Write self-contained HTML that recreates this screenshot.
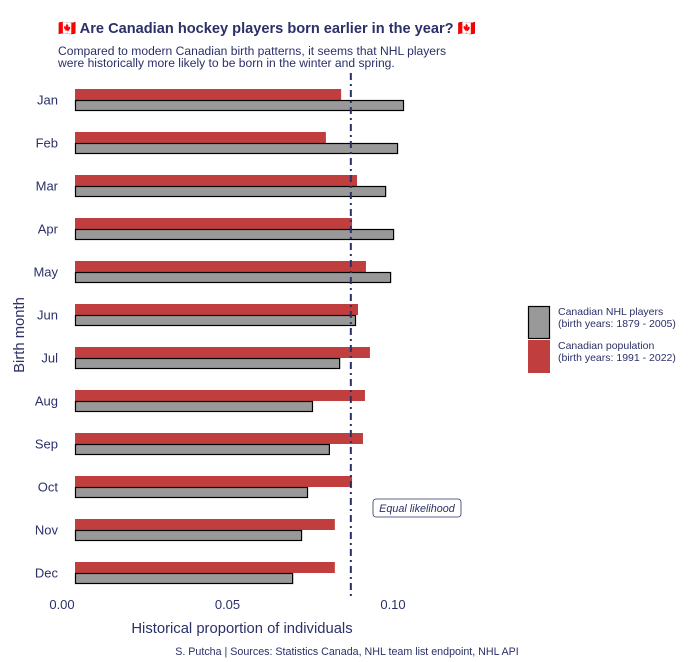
<!DOCTYPE html>
<html><head><meta charset="utf-8"><style>
html,body{margin:0;padding:0;background:#fff;width:700px;height:662px;overflow:hidden}
svg text{font-family:"Liberation Sans",sans-serif;fill:#2b3068}
</style></head><body>
<svg id="chart" width="700" height="662" xmlns="http://www.w3.org/2000/svg">
<text x="58" y="33" font-size="14.6" font-weight="bold">🇨🇦 Are Canadian hockey players born earlier in the year? 🇨🇦</text>
<text x="58" y="55" font-size="12.1">Compared to modern Canadian birth patterns, it seems that NHL players</text>
<text x="58" y="67" font-size="12.1">were historically more likely to be born in the winter and spring.</text>
<g id="bars"></g>
<g id="yticks"></g>
<g id="xticks"></g>
<line id="eqline" y1="73" y2="598" stroke="#2b3068" stroke-width="2" stroke-dasharray="7,4,2,4"/>
<g>
<rect x="373" y="499" width="88" height="18" rx="3" fill="#fff" stroke="#2b3068" stroke-width="0.8"/>
<text x="417" y="512" font-size="10.8" font-style="italic" text-anchor="middle">Equal likelihood</text>
</g>
<text x="242" y="633" font-size="14.8" text-anchor="middle">Historical proportion of individuals</text>
<text transform="translate(24,335) rotate(-90)" font-size="14.8" text-anchor="middle">Birth month</text>
<g>
<rect x="528.5" y="306.5" width="21" height="32" fill="#999" stroke="#000" stroke-width="1.2"/>
<rect x="528" y="340" width="22" height="33" fill="#c03e3e"/>
<text font-size="10.5"><tspan x="558" y="315">Canadian NHL players</tspan><tspan x="558" y="327">(birth years: 1879 - 2005)</tspan></text>
<text font-size="10.5"><tspan x="558" y="349">Canadian population</tspan><tspan x="558" y="361">(birth years: 1991 - 2022)</tspan></text>
</g>
<text x="347" y="655" font-size="10.7" text-anchor="middle">S. Putcha | Sources: Statistics Canada, NHL team list endpoint, NHL API</text>
</svg>
<script>
const months=["Jan","Feb","Mar","Apr","May","Jun","Jul","Aug","Sep","Oct","Nov","Dec"];
const nhlValues=[0.0994,0.0976,0.094,0.0964,0.0955,0.0849,0.0801,0.0719,0.077,0.0704,0.0686,0.0659];
const popValues=[0.0804,0.0758,0.0852,0.0837,0.0879,0.0855,0.0891,0.0876,0.087,0.0837,0.0785,0.0785];
const xTicks=[0,0.05,0.1];
const xTickLabels=["0.00","0.05","0.10"];
const equalLikelihood=1/12;
const NS="http://www.w3.org/2000/svg";
const xAxis=v=>62+v*3310;
const xBar=v=>75+v*3310;
const yBand=i=>100+i*43;
function mk(tag,attrs,parent){const e=document.createElementNS(NS,tag);for(const k in attrs)e.setAttribute(k,attrs[k]);parent.appendChild(e);return e;}
const bars=document.getElementById('bars'),yt=document.getElementById('yticks'),xt=document.getElementById('xticks');
months.forEach((m,i)=>{
  const c=yBand(i);
  const r=mk('rect',{x:xBar(0),y:c-11,width:xBar(popValues[i])-xBar(0),height:11,fill:'#c03e3e'},bars);
  
  
  const g=mk('rect',{x:xBar(0)+0.5,y:c+0.5,width:xBar(nhlValues[i])-xBar(0)-1,height:10,fill:'#999',stroke:'#000','stroke-width':1.2},bars);
  
  
  const t=mk('text',{x:58,y:c+4.5,'font-size':13,'text-anchor':'end'},yt);
  t.textContent=m;
  
  
});
xTicks.forEach((v,i)=>{
  const t=mk('text',{x:xAxis(v),y:609,'font-size':13,'text-anchor':'middle'},xt);
  t.textContent=xTickLabels[i];
  
  
});
const eq=document.getElementById('eqline');
eq.setAttribute('x1',xBar(equalLikelihood));eq.setAttribute('x2',xBar(equalLikelihood));
</script>
</body></html>
